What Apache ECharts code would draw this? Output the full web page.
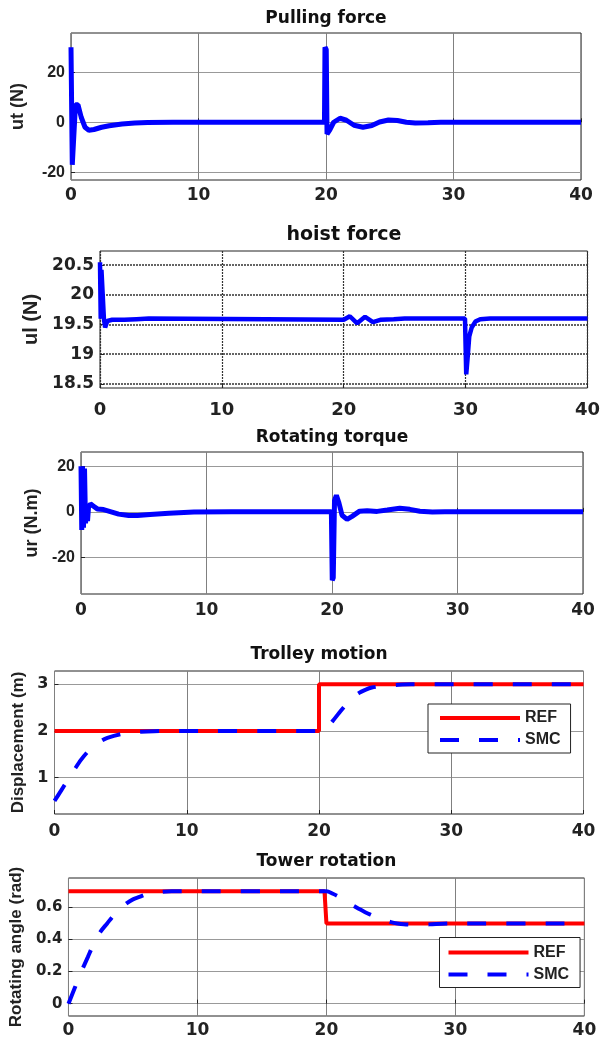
<!DOCTYPE html>
<html>
<head>
<meta charset="utf-8">
<script src="https://cdn.jsdelivr.net/npm/echarts@6/dist/echarts.min.js"></script>
<style>
  html, body { margin: 0; padding: 0; background: #fff; }
  #chart { width: 603px; height: 1039px; }
</style>
</head>
<body>
<div id="chart"></div>
<script>
// time axis ticks (s)
const xTicks = [0, 10, 20, 30, 40]

// Pulling force ut (N)
const pullTicks = [-20, 0, 20]
const pullT = [0, 0.1, 0.35, 0.55, 0.8, 1.1, 1.4, 1.8, 2.4, 3, 4, 5, 6, 8, 19.88, 19.92, 20.02, 20.08, 20.3, 20.6, 21.1, 21.6, 22.2, 22.9, 23.6, 24.2, 24.9, 25.6, 26.3, 27, 28, 29, 40]
const pullU = [30, -17, 7, 7, 2, -2, -3.2, -2.9, -2, -1.4, -0.7, -0.3, -0.1, 0, 0, 30, 29, -4.7, -3, 0, 1.6, 0.8, -1.2, -2, -1.3, 0.1, 0.9, 0.7, 0, -0.3, -0.2, 0, 0]

// hoist force ul (N)
const hoistTicks = [18.5, 19, 19.5, 20, 20.5]
const hoistT = [0, 0.06, 0.12, 0.22, 0.32, 0.42, 0.6, 1, 2, 3, 4, 20, 20.5, 21.1, 21.75, 22.4, 23, 24.1, 25, 29.95, 30.05, 30.15, 30.3, 30.5, 30.8, 31.2, 32, 40]
const hoistU = [20.55, 19.6, 20.42, 20.4, 19.6, 19.45, 19.56, 19.58, 19.58, 19.59, 19.6, 19.58, 19.64, 19.52, 19.63, 19.54, 19.58, 19.59, 19.6, 19.6, 18.66, 18.9, 19.3, 19.45, 19.55, 19.59, 19.6, 19.6]

// Rotating torque ur (N.m)
const torqueTicks = [-20, 0, 20]
const torqueT = [0, 0.06, 0.12, 0.2, 0.28, 0.36, 0.45, 0.52, 0.6, 0.75, 1, 1.3, 1.8, 2.4, 3, 3.8, 4.5, 5.5, 7, 9, 12, 19.95, 20.02, 20.1, 20.2, 20.35, 20.55, 20.8, 21.2, 21.6, 22.2, 22.8, 23.6, 24.4, 25.4, 26.2, 27, 28, 29, 40]
const torqueU = [20, -8, 20, -7, 19, -5, 2, -4, 2, 3.5, 2.5, 1.3, 1.0, 0, -1, -1.6, -1.6, -1.2, -0.6, -0.1, 0, 0, -30, -29, 5, 7.3, 4, -1.5, -3.3, -2, 0.3, 0.5, 0.2, 0.8, 1.6, 1.1, 0.3, -0.1, 0, 0]

// Trolley motion (m)
const trolleyTicks = [1, 2, 3]
const trolleyRefT = [0, 20, 20, 40]
const trolleyRef = [2, 2, 3, 3]
const trolleySmcT = [0, 0.5, 1, 1.5, 2, 2.5, 3, 3.5, 4, 5, 6, 7, 8, 20, 20.5, 21, 21.5, 22, 22.5, 23, 23.5, 24, 25, 26, 27, 40]
const trolleySmc = [0.5, 0.72, 0.95, 1.17, 1.38, 1.55, 1.68, 1.78, 1.85, 1.93, 1.97, 1.99, 2, 2, 2.05, 2.2, 2.38, 2.55, 2.7, 2.81, 2.88, 2.93, 2.97, 2.99, 3, 3]

// Tower rotation (rad)
const towerTicks = [0, 0.2, 0.4, 0.6]
const towerRefT = [0, 19.85, 20, 40]
const towerRef = [0.7, 0.7, 0.5, 0.5]
const towerSmcT = [0, 0.5, 1, 1.5, 2, 2.5, 3, 3.5, 4, 4.5, 5, 5.5, 6, 7, 8, 20, 20.5, 21, 21.5, 22, 22.5, 23, 23.5, 24, 24.5, 25, 25.5, 26, 27, 28, 29, 30, 40]
const towerSmc = [0, 0.1, 0.2, 0.29, 0.38, 0.45, 0.5, 0.55, 0.59, 0.625, 0.65, 0.665, 0.68, 0.695, 0.7, 0.7, 0.685, 0.665, 0.64, 0.615, 0.592, 0.57, 0.552, 0.535, 0.52, 0.508, 0.5, 0.495, 0.492, 0.494, 0.498, 0.5, 0.5]

const zip = (t, v) => t.map((x, i) => [x, v[i]])

const BLUE = '#0000ff'
const RED = '#ff0000'
const boldLabel = (size, family) => ({
  fontSize: size,
  fontWeight: 'bold',
  fontFamily: family || 'Liberation Sans',
  color: '#222'
})

const boxes = [
  { left: 71, top: 33, width: 510, height: 147 },
  { left: 100, top: 251, width: 488, height: 137 },
  { left: 81, top: 452, width: 502, height: 142 },
  { left: 54.5, top: 671, width: 529, height: 143 },
  { left: 68.4, top: 878, width: 516, height: 141 }
]

const titles = ['Pulling force', 'hoist force', 'Rotating torque', 'Trolley motion', 'Tower rotation']
const titleTops = [10, 226, 429, 646, 853]
const titleSizes = [17, 19, 17, 17, 17]

function xAxis(i, margin, size) {
  const dotted = i === 1
  return {
    type: 'value',
    gridIndex: i,
    min: xTicks[0],
    max: xTicks[xTicks.length - 1],
    interval: xTicks[1] - xTicks[0],
    axisLine: { show: false },
    axisTick: { show: true, inside: true, length: 4, lineStyle: { color: '#222' } },
    axisLabel: Object.assign({ margin: margin }, boldLabel(size, 'DejaVu Sans')),
    splitLine: {
      show: true,
      lineStyle: dotted ? { color: '#333', width: 1.2, type: [2, 1] } : { color: '#808080', width: 1 }
    }
  }
}

function yAxis(i, ticks, min, max, name, nameGap, nameSize, labelSize, labelFamily) {
  const dotted = i === 1
  return {
    type: 'value',
    gridIndex: i,
    min: min,
    max: max,
    name: name,
    nameLocation: 'middle',
    nameGap: nameGap,
    nameTextStyle: boldLabel(nameSize),
    axisLine: { show: false },
    axisTick: { show: true, inside: true, length: 4, customValues: ticks, lineStyle: { color: '#222' } },
    axisLabel: Object.assign({ margin: 6, customValues: ticks }, boldLabel(labelSize, labelFamily)),
    splitLine: {
      show: true,
      lineStyle: dotted ? { color: '#333', width: 1.6, type: [2, 1] } : { color: '#999', width: 1 }
    }
  }
}

function legend(box, pad) {
  return {
    data: ['REF', 'SMC'],
    orient: 'vertical',
    left: box.left,
    top: box.top,
    padding: pad,
    itemWidth: 80,
    itemHeight: 14,
    itemGap: 6,
    itemStyle: { opacity: 0 },
    lineStyle: { width: 4 },
    backgroundColor: '#fff',
    borderColor: '#222',
    borderWidth: 1,
    borderRadius: 0,
    selectedMode: false,
    textStyle: boldLabel(16)
  }
}

const chart = echarts.init(document.getElementById('chart'), null, { renderer: 'canvas' })

chart.setOption({
  animation: false,
  backgroundColor: '#fff',
  title: titles.map((text, i) => ({
    text: text,
    left: boxes[i].left + boxes[i].width / 2,
    textAlign: 'center',
    top: titleTops[i],
    padding: 0,
    textStyle: {
      fontSize: titleSizes[i],
      fontWeight: 'bold',
      fontFamily: 'DejaVu Sans',
      color: '#111'
    }
  })),
  grid: boxes.map(b => Object.assign({
    show: true,
    borderColor: '#222',
    borderWidth: 1,
    backgroundColor: '#fff',
    containLabel: false
  }, b)),
  xAxis: [
    xAxis(0, 7, 17),
    xAxis(1, 13, 18),
    xAxis(2, 8, 17),
    xAxis(3, 9, 17),
    xAxis(4, 6, 17)
  ],
  yAxis: [
    yAxis(0, pullTicks, -23.1, 35.7, 'ut (N)', 44, 18, 16),
    yAxis(1, hoistTicks, 18.43, 20.74, 'ul (N)', 59, 20, 17, 'DejaVu Sans'),
    yAxis(2, torqueTicks, -36.1, 26.3, 'ur (N.m)', 33, 18, 16),
    yAxis(3, trolleyTicks, 0.22, 3.285, 'Displacement (m)', 21, 17, 16, 'DejaVu Sans'),
    yAxis(4, towerTicks, -0.077, 0.783, 'Rotating angle (rad)', 32, 17, 15, 'DejaVu Sans')
  ],
  legend: [
    legend({ left: 428, top: 704 }, [6, 10, 5, 10]),
    legend({ left: 439.5, top: 937.5 }, [7, 11, 5, 7])
  ],
  series: [
    {
      name: 'ut',
      type: 'line',
      xAxisIndex: 0,
      yAxisIndex: 0,
      data: zip(pullT, pullU),
      symbol: 'none',
      lineStyle: { color: BLUE, width: 5 }
    },
    {
      name: 'ul',
      type: 'line',
      xAxisIndex: 1,
      yAxisIndex: 1,
      data: zip(hoistT, hoistU),
      symbol: 'none',
      lineStyle: { color: BLUE, width: 4.5 }
    },
    {
      name: 'ur',
      type: 'line',
      xAxisIndex: 2,
      yAxisIndex: 2,
      data: zip(torqueT, torqueU),
      symbol: 'none',
      lineStyle: { color: BLUE, width: 5 }
    },
    {
      name: 'REF',
      type: 'line',
      xAxisIndex: 3,
      yAxisIndex: 3,
      data: zip(trolleyRefT, trolleyRef),
      symbol: 'none',
      itemStyle: { color: RED },
      lineStyle: { color: RED, width: 4 }
    },
    {
      name: 'SMC',
      type: 'line',
      xAxisIndex: 3,
      yAxisIndex: 3,
      data: zip(trolleySmcT, trolleySmc),
      symbol: 'none',
      smooth: 0.3,
      itemStyle: { color: BLUE },
      lineStyle: { color: BLUE, width: 4, type: [19, 20] }
    },
    {
      name: 'REF',
      type: 'line',
      xAxisIndex: 4,
      yAxisIndex: 4,
      data: zip(towerRefT, towerRef),
      symbol: 'none',
      itemStyle: { color: RED },
      lineStyle: { color: RED, width: 4 }
    },
    {
      name: 'SMC',
      type: 'line',
      xAxisIndex: 4,
      yAxisIndex: 4,
      data: zip(towerSmcT, towerSmc),
      symbol: 'none',
      smooth: 0.3,
      itemStyle: { color: BLUE },
      lineStyle: { color: BLUE, width: 4, type: [19, 20] }
    }
  ]
})
</script>
</body>
</html>
